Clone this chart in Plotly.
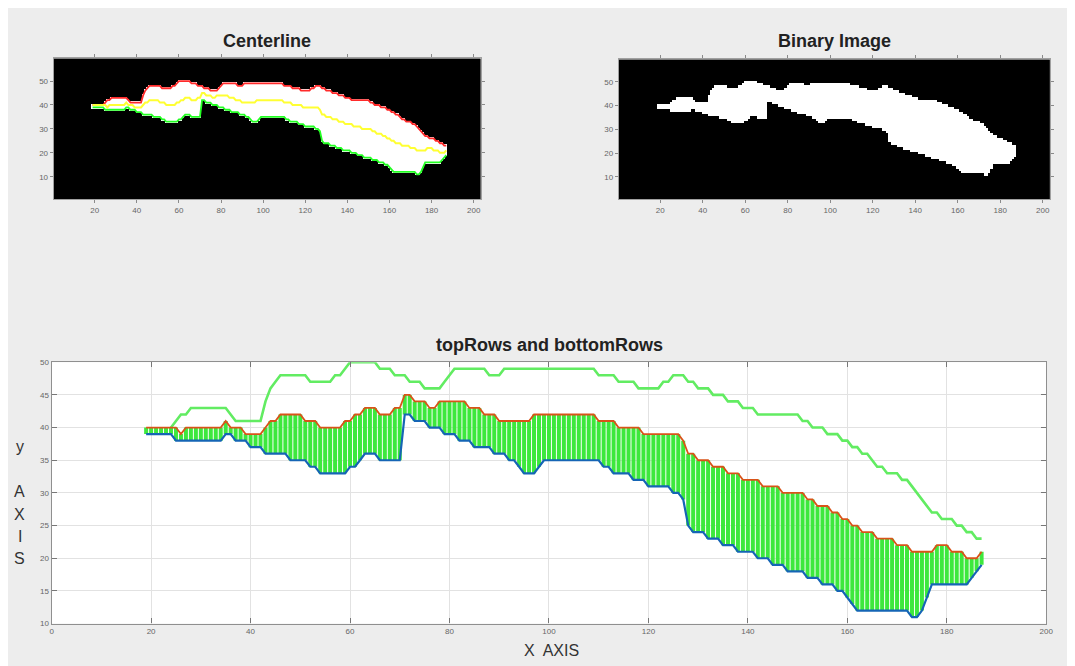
import plotly.graph_objects as go

# ---------------- data ----------------
cols = list(range(19, 188))  # x positions 19..187

edgeTop = [  # upper boundary of the shape (light green line)
    40, 40, 40, 40, 40, 40, 41, 42, 42, 43,
    43, 43, 43, 43, 43, 43, 43, 42, 41, 41,
    41, 41, 41, 41, 44, 46, 47, 48, 48, 48,
    48, 48, 48, 47, 47, 47, 47, 47, 48, 48,
    49, 50, 50, 50, 50, 50, 50, 49, 49, 49,
    48, 48, 48, 47, 47, 47, 46, 46, 46, 46,
    47, 48, 49, 49, 49, 49, 49, 49, 49, 48,
    48, 48, 49, 49, 49, 49, 49, 49, 49, 49,
    49, 49, 49, 49, 49, 49, 49, 49, 49, 49,
    49, 48, 48, 48, 48, 47, 47, 47, 47, 46,
    46, 46, 46, 46, 47, 47, 48, 48, 48, 47,
    47, 46, 46, 46, 45, 45, 45, 44, 44, 44,
    43, 43, 43, 42, 42, 42, 42, 42, 42, 42,
    42, 42, 41, 41, 40, 40, 40, 39, 39, 39,
    38, 38, 37, 37, 36, 36, 35, 34, 34, 33,
    33, 33, 32, 32, 31, 30, 29, 28, 27, 27,
    26, 26, 26, 25, 25, 24, 24, 23, 23,
]

topRows = [  # red line (centre line)
    40, 40, 40, 40, 40, 40, 40, 39, 40, 40,
    40, 40, 40, 40, 40, 40, 41, 40, 40, 40,
    39, 39, 39, 39, 40, 41, 41, 42, 42, 42,
    42, 42, 41, 41, 41, 40, 40, 40, 40, 40,
    41, 41, 42, 42, 43, 43, 43, 42, 42, 42,
    43, 43, 45, 45, 44, 44, 44, 43, 43, 44,
    44, 44, 44, 44, 44, 43, 43, 43, 42, 42,
    42, 41, 41, 41, 41, 41, 41, 41, 42, 42,
    42, 42, 42, 42, 42, 42, 42, 42, 42, 42,
    42, 41, 41, 41, 41, 40, 40, 40, 40, 40,
    39, 39, 39, 39, 39, 39, 39, 39, 38, 36,
    36, 35, 35, 35, 34, 34, 34, 33, 33, 33,
    32, 32, 32, 32, 31, 31, 31, 31, 30, 30,
    30, 30, 30, 29, 29, 28, 28, 28, 27, 27,
    26, 26, 25, 25, 24, 24, 24, 23, 23, 23,
    23, 22, 22, 22, 21, 21, 21, 21, 21, 22,
    22, 22, 21, 21, 21, 20, 20, 20, 21,
]

bottomRows = [  # blue line (lower boundary)
    39, 39, 39, 39, 39, 39, 38, 38, 38, 38,
    38, 38, 38, 38, 38, 38, 39, 39, 38, 38,
    38, 37, 37, 37, 36, 36, 36, 36, 36, 35,
    35, 35, 35, 34, 34, 33, 33, 33, 33, 33,
    33, 34, 34, 35, 36, 36, 36, 35, 35, 35,
    35, 35, 42, 42, 41, 41, 41, 40, 40, 40,
    39, 39, 39, 38, 38, 38, 37, 37, 37, 37,
    36, 36, 36, 35, 35, 34, 33, 33, 33, 34,
    35, 35, 35, 35, 35, 35, 35, 35, 35, 35,
    35, 35, 34, 34, 33, 33, 33, 33, 32, 32,
    32, 31, 31, 31, 31, 31, 30, 30, 29, 25,
    24, 24, 24, 23, 23, 23, 22, 22, 22, 21,
    21, 21, 21, 20, 20, 20, 19, 19, 19, 18,
    18, 18, 18, 17, 17, 17, 16, 16, 16, 15,
    15, 14, 13, 12, 12, 12, 12, 12, 12, 12,
    12, 12, 12, 12, 11, 11, 12, 14, 16, 16,
    16, 16, 16, 16, 16, 16, 17, 18, 19,
]

img_cols = list(range(1, 204))
img_rows = list(range(1, 60))
xticks_img = [20, 40, 60, 80, 100, 120, 140, 160, 180, 200]
yticks_img = [10, 20, 30, 40, 50]
xticks_plot = [0, 20, 40, 60, 80, 100, 120, 140, 160, 180, 200]
yticks_plot = [10, 15, 20, 25, 30, 35, 40, 45, 50]

# ---------------- binary mask built from the boundaries ----------------
lo = dict(zip(cols, bottomRows))
hi = dict(zip(cols, edgeTop))
mask = []
for r in img_rows:
    row = []
    for c in img_cols:
        row.append(1 if (c in lo and lo[c] <= r <= hi[c]) else 0)
    mask.append(row)

OFF = 8  # page body margin
W, H = 1075, 666
BG = "#ededed"


def px(x):
    return (x - OFF) / W


def py(y):
    return 1 - (y - OFF) / H


fig = go.Figure()
bw = [[0, "black"], [1, "white"]]

# --- Centerline panel ---
fig.add_trace(go.Heatmap(x=img_cols, y=img_rows, z=mask, colorscale=bw, zmin=0, zmax=1,
                         showscale=False, xaxis="x", yaxis="y", hoverinfo="skip"))
fig.add_trace(go.Scatter(x=cols, y=edgeTop, mode="lines", line=dict(color="#ff2a2a", width=1.8),
                         xaxis="x", yaxis="y", showlegend=False))
fig.add_trace(go.Scatter(x=cols, y=bottomRows, mode="lines", line=dict(color="#22ff22", width=1.8),
                         xaxis="x", yaxis="y", showlegend=False))
fig.add_trace(go.Scatter(x=cols, y=topRows, mode="lines", line=dict(color="#ffff33", width=2),
                         xaxis="x", yaxis="y", showlegend=False))

# --- Binary Image panel ---
fig.add_trace(go.Heatmap(x=img_cols, y=img_rows, z=mask, colorscale=bw, zmin=0, zmax=1,
                         showscale=False, xaxis="x2", yaxis="y2", hoverinfo="skip"))

# --- topRows and bottomRows panel ---
sx, sy = [], []
for c, b, t in zip(cols, bottomRows, topRows):
    sx += [c, c, None]
    sy += [b, t, None]
fig.add_trace(go.Scatter(x=sx, y=sy, mode="lines", line=dict(color="#3de83d", width=4),
                         xaxis="x3", yaxis="y3", showlegend=False))
fig.add_trace(go.Scatter(x=cols[5:], y=edgeTop[5:], mode="lines", line=dict(color="#62ec62", width=2.6),
                         xaxis="x3", yaxis="y3", showlegend=False))
fig.add_trace(go.Scatter(x=cols, y=topRows, mode="lines", line=dict(color="#d95319", width=1.8),
                         xaxis="x3", yaxis="y3", showlegend=False))
fig.add_trace(go.Scatter(x=cols, y=bottomRows, mode="lines", line=dict(color="#1565b5", width=2.2),
                         xaxis="x3", yaxis="y3", showlegend=False))

tickfont = dict(family="Liberation Sans, Arial, sans-serif", size=8, color="#666666")
img_ax = dict(showgrid=False, zeroline=False, showline=True, linecolor="#a0a0a0", linewidth=1,
              mirror="ticks", ticks="outside", ticklen=3, tickcolor="#8a8a8a", tickfont=tickfont)

fig.update_layout(
    width=W, height=H, margin=dict(l=0, r=0, t=0, b=0),
    paper_bgcolor=BG, plot_bgcolor="white", showlegend=False,
    xaxis=dict(domain=[px(52), px(483)], range=[0.5, 203.5], tickvals=xticks_img, anchor="y", **img_ax),
    yaxis=dict(domain=[py(198), py(55)], range=[0.5, 59.5], tickvals=yticks_img, anchor="x", **img_ax),
    xaxis2=dict(domain=[px(622), px(1057)], range=[0.5, 203.5], tickvals=xticks_img, anchor="y2", **img_ax),
    yaxis2=dict(domain=[py(198), py(56)], range=[0.5, 59.5], tickvals=yticks_img, anchor="x2", **img_ax),
    xaxis3=dict(domain=[px(50), px(1053)], range=[0, 200], tickvals=xticks_plot, anchor="y3",
                showgrid=True, gridcolor="#e2e2e2", zeroline=False, showline=True, linecolor="#8f8f8f",
                linewidth=1.3, mirror="ticks", ticks="inside", ticklen=5, tickcolor="#777777",
                tickfont=tickfont),
    yaxis3=dict(domain=[py(628), py(363)], range=[10, 50], tickvals=yticks_plot, anchor="x3",
                showgrid=True, gridcolor="#e2e2e2", zeroline=False, showline=True, linecolor="#8f8f8f",
                linewidth=1.3, mirror="ticks", ticks="inside", ticklen=5, tickcolor="#777777",
                tickfont=tickfont),
)

title_font = dict(family="Liberation Sans, Arial, sans-serif", size=18, color="#222222")
annos = [
    dict(text="<b>Centerline</b>", x=px(267), y=py(37), font=title_font),
    dict(text="<b>Binary Image</b>", x=px(839), y=py(37), font=title_font),
    dict(text="<b>topRows and bottomRows</b>", x=px(552), y=py(346), font=title_font),
    dict(text="X  AXIS", x=px(554), y=py(655),
         font=dict(family="Liberation Sans, Arial, sans-serif", size=16, color="#333333")),
]
for ch, yy in [("y", 448), ("A", 494), ("X", 517), ("I", 540), ("S", 562)]:
    annos.append(dict(text=ch, x=px(18), y=py(yy),
                      font=dict(family="Liberation Sans, Arial, sans-serif", size=16, color="#333333")))
for a in annos:
    a.update(xref="paper", yref="paper", showarrow=False, xanchor="center", yanchor="middle")
fig.update_layout(annotations=annos)

fig.write_html("out.html")
